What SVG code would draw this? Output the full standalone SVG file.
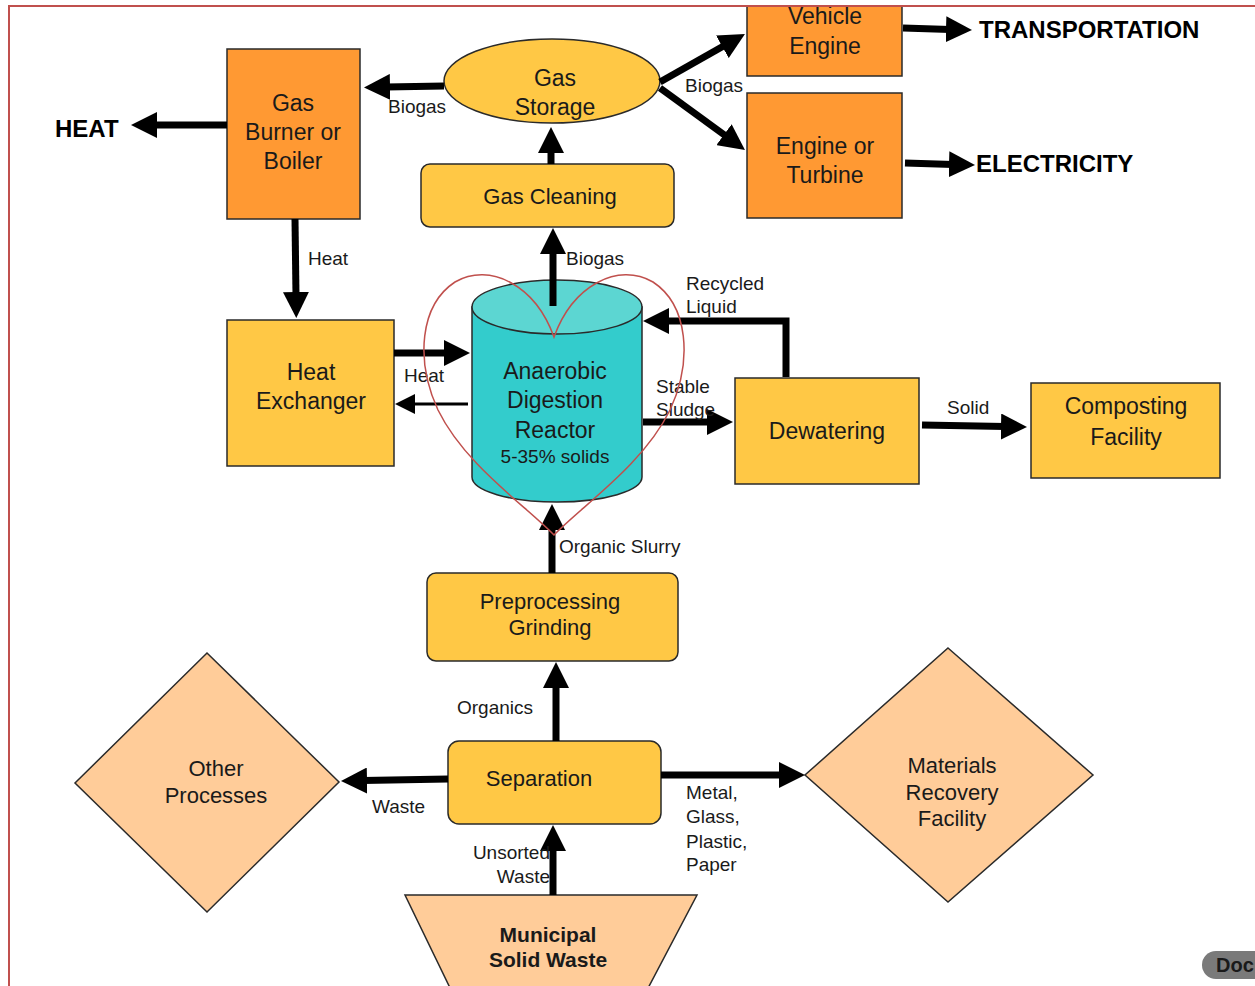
<svg xmlns="http://www.w3.org/2000/svg" width="1255" height="986" viewBox="0 0 1255 986">
<style>
text{font-family:"Liberation Sans",Arial,sans-serif;fill:#1a1a1a}
.n{font-size:23px;text-anchor:middle}
.r{font-size:22px;text-anchor:middle}
.l{font-size:19px}
.b{font-size:24px;font-weight:bold;fill:#000}
.orange{fill:#FF9933;stroke:#2a2a2a;stroke-width:1.5}
.yellow{fill:#FFC845;stroke:#2a2a2a;stroke-width:1.5}
.peach{fill:#FFCC99;stroke:#2a2a2a;stroke-width:1.5}
.c{stroke:#000;stroke-width:7;fill:none;marker-end:url(#ah)}
.cs{stroke:#000;stroke-width:3;fill:none;marker-end:url(#ahs)}
</style>
<defs>
<marker id="ah" viewBox="0 0 26 26" refX="4" refY="13" markerWidth="26" markerHeight="26" markerUnits="userSpaceOnUse" orient="auto"><path d="M0,0 L26,13 L0,26 Z" fill="#000"/></marker>
<marker id="ahs" viewBox="0 0 20 20" refX="4" refY="10" markerWidth="20" markerHeight="20" markerUnits="userSpaceOnUse" orient="auto"><path d="M0,0 L20,10 L0,20 Z" fill="#000"/></marker>
</defs>
<rect width="1255" height="986" fill="#fff"/>

<g id="gas-burner"><rect class="orange" x="227" y="49" width="133" height="170"/><text class="n" x="293" y="111">Gas</text><text class="n" x="293" y="140">Burner or</text><text class="n" x="293" y="169">Boiler</text></g>
<g id="heat-out"><text class="b" x="55" y="137">HEAT</text></g>
<g id="gas-storage"><ellipse class="yellow" cx="552" cy="81" rx="108" ry="42"/><text class="n" x="555" y="86">Gas</text><text class="n" x="555" y="115">Storage</text></g>
<g id="gas-cleaning"><rect class="yellow" x="421" y="164" width="253" height="63" rx="9"/><text class="r" x="550" y="204">Gas Cleaning</text></g>
<g id="vehicle-engine"><rect x="747" y="7" width="155" height="69" fill="#FF9933"/><path d="M747,7 V76 H902 V7" fill="none" stroke="#2a2a2a" stroke-width="1.5"/><text class="n" x="825" y="24">Vehicle</text><text class="n" x="825" y="54">Engine</text></g>
<g id="engine-turbine"><rect class="orange" x="747" y="93" width="155" height="125"/><text class="n" x="825" y="154">Engine or</text><text class="n" x="825" y="183">Turbine</text></g>
<g id="transportation"><text class="b" x="979" y="38">TRANSPORTATION</text></g>
<g id="electricity"><text class="b" x="976" y="172">ELECTRICITY</text></g>
<g id="heat-exchanger"><rect class="yellow" x="227" y="320" width="167" height="146"/><text class="n" x="311" y="380">Heat</text><text class="n" x="311" y="409">Exchanger</text></g>
<g id="reactor"><path d="M472,307 V477 A85,25 0 0 0 642,477 V307 Z" fill="#33CCCC" stroke="#2a2a2a" stroke-width="1.5"/><ellipse cx="557" cy="307" rx="85" ry="27" fill="#5CD6D2" stroke="#2a2a2a" stroke-width="1.5"/><text class="n" x="555" y="379">Anaerobic</text><text class="n" x="555" y="408">Digestion</text><text class="n" x="555" y="438">Reactor</text><text x="555" y="463" font-size="19" text-anchor="middle">5-35% solids</text></g>
<g id="dewatering"><rect class="yellow" x="735" y="378" width="184" height="106"/><text class="n" x="827" y="439">Dewatering</text></g>
<g id="composting"><rect class="yellow" x="1031" y="383" width="189" height="95"/><text class="n" x="1126" y="414">Composting</text><text class="n" x="1126" y="445">Facility</text></g>
<g id="preprocessing"><rect class="yellow" x="427" y="573" width="251" height="88" rx="9"/><text class="r" x="550" y="609">Preprocessing</text><text class="r" x="550" y="635">Grinding</text></g>
<g id="separation"><rect class="yellow" x="448" y="741" width="213" height="83" rx="11"/><text class="r" x="539" y="786">Separation</text></g>
<g id="other-processes"><polygon class="peach" points="207,653 339,782 207,912 75,783"/><text class="r" x="216" y="776">Other</text><text class="r" x="216" y="803">Processes</text></g>
<g id="mrf"><polygon class="peach" points="948,648 1093,775 948,902 805,775"/><text class="r" x="952" y="773">Materials</text><text class="r" x="952" y="800">Recovery</text><text class="r" x="952" y="826">Facility</text></g>
<g id="msw"><polygon class="peach" points="405,895 697,895 646,992 452,992"/><text x="548" y="942" font-size="21" font-weight="bold" text-anchor="middle" fill="#000">Municipal</text><text x="548" y="967" font-size="21" font-weight="bold" text-anchor="middle" fill="#000">Solid Waste</text></g>

<g id="connectors">
<line class="c" x1="444" y1="86" x2="386" y2="87"/>
<line class="c" x1="227" y1="125" x2="153" y2="125"/>
<line class="c" x1="551" y1="164" x2="551" y2="149"/>
<line class="c" x1="660" y1="82" x2="725.8" y2="44.8"/>
<line class="c" x1="660" y1="88" x2="727.2" y2="137"/>
<line class="c" x1="903" y1="28" x2="950" y2="29.4"/>
<line class="c" x1="905" y1="163" x2="953" y2="164.4"/>
<line class="c" x1="295" y1="219" x2="296" y2="296"/>
<line class="c" x1="394" y1="353" x2="448" y2="353" stroke-width="6"/>
<line class="cs" x1="468" y1="404" x2="411" y2="404"/>
<line class="c" x1="553" y1="306" x2="553" y2="250"/>
<polyline class="c" points="786,377 786,321 665,321" stroke-width="6"/>
<line class="c" x1="643" y1="422" x2="711" y2="422" stroke-width="5"/>
<line class="c" x1="922" y1="425" x2="1005" y2="426.6" stroke-width="6"/>
<line class="c" x1="552" y1="573" x2="552" y2="526"/>
<line class="c" x1="556" y1="741" x2="556" y2="684"/>
<line class="c" x1="448" y1="779" x2="363" y2="780.6"/>
<line class="c" x1="661" y1="775" x2="783" y2="775"/>
<line class="c" x1="553" y1="895" x2="553" y2="847"/>
<text class="l" x="388" y="113">Biogas</text>
<text class="l" x="685" y="92">Biogas</text>
<text class="l" x="308" y="265">Heat</text>
<text class="l" x="566" y="265">Biogas</text>
<text class="l" x="404" y="382">Heat</text>
<text class="l" x="686" y="290">Recycled</text>
<text class="l" x="686" y="313">Liquid</text>
<text class="l" x="656" y="393">Stable</text>
<text class="l" x="656" y="416">Sludge</text>
<text class="l" x="947" y="414">Solid</text>
<text class="l" x="559" y="553">Organic Slurry</text>
<text class="l" x="457" y="714">Organics</text>
<text class="l" x="372" y="813">Waste</text>
<text class="l" x="686" y="799">Metal,</text>
<text class="l" x="686" y="823">Glass,</text>
<text class="l" x="686" y="848">Plastic,</text>
<text class="l" x="686" y="871">Paper</text>
<text class="l" x="550" y="859" text-anchor="end">Unsorted</text>
<text class="l" x="550" y="883" text-anchor="end">Waste</text>
</g>

<path d="M554,337 C535,285 490,262 455,282 C420,305 415,360 438,410 C465,465 525,505 554,535 C583,505 643,465 670,410 C693,360 688,305 653,282 C618,262 573,285 554,337 Z" fill="none" stroke="#C0504D" stroke-width="1.5"/>
<path d="M9,986 V6 H1255" fill="none" stroke="#C0504D" stroke-width="2"/>
<g id="doc-badge"><rect x="1202" y="951" width="70" height="28" rx="14" fill="#7a7a7a"/><text x="1216" y="972" font-size="20" font-weight="bold" fill="#fff">Doc</text></g>
</svg>
